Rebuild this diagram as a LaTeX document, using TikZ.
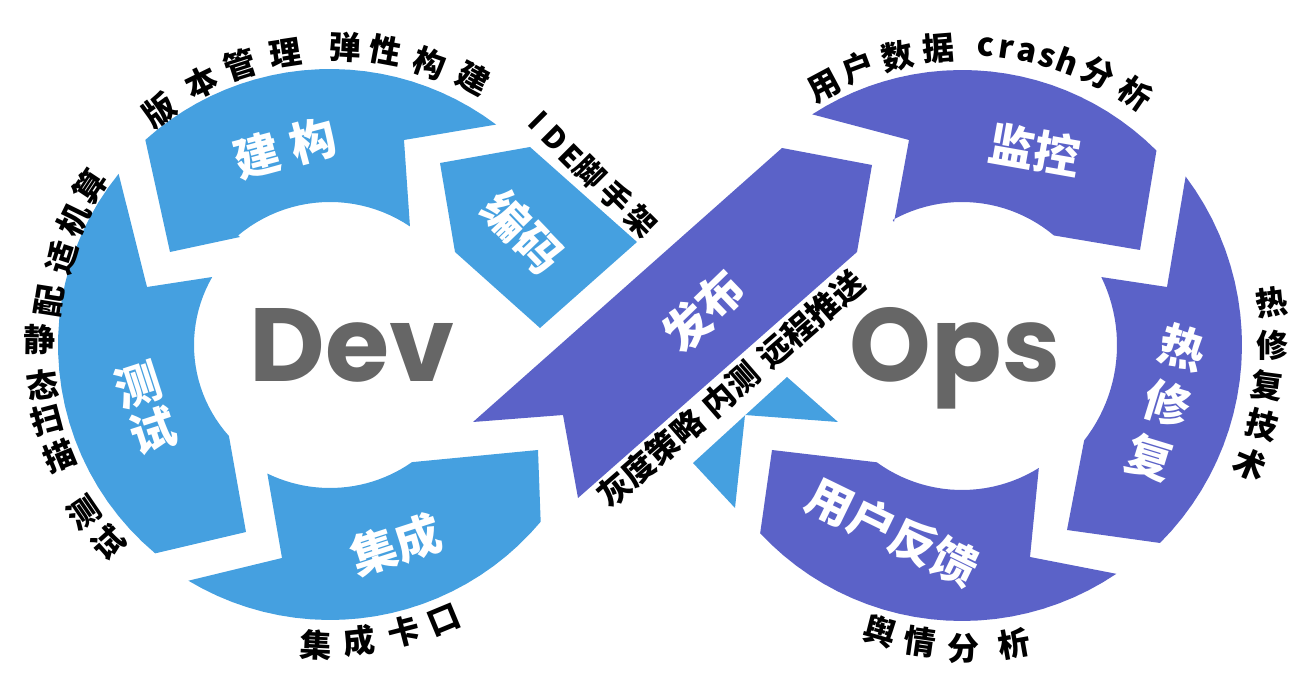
\documentclass[tikz,border=0pt]{standalone}
\usepackage{fontspec}
\newfontfamily\cjk{Noto Sans CJK SC}
\newfontfamily\logofont{Poppins}
\definecolor{devblue}{HTML}{45A0E0}
\definecolor{opsviolet}{HTML}{5B62C8}
\definecolor{logogray}{HTML}{666666}
\tikzset{
  stage/.style={text=white, inner sep=0pt, font=\cjk\bfseries\fontsize{23}{23}\selectfont},
  note/.style={text=black, inner sep=0pt, font=\cjk\bfseries\fontsize{16}{16}\selectfont},
  logo/.style={text=logogray, inner sep=0pt, anchor=base, font=\logofont\bfseries\fontsize{52}{52}\selectfont}
}
\begin{document}
\begin{tikzpicture}[x=0.5pt, y=-0.5pt]
  \useasboundingbox (0,0) rectangle (1316,694);
  % Dev loop
  \fill[devblue] plot[domain=53:132, variable=\t] ({330+276*cos(\t)}, {345-276*sin(\t)})
    -- (170,252) -- (240,237)
    -- plot[domain=130:56, variable=\t] ({330+143*cos(\t)}, {345-143*sin(\t)})
    -- (404,140) -- cycle;
  \fill[devblue] plot[domain=141:230, variable=\t] ({330+272*cos(\t)}, {345-272*sin(\t)})
    -- (246,532) -- (230,442)
    -- plot[domain=222:150, variable=\t] ({330+136*cos(\t)}, {345-136*sin(\t)})
    -- (147,287) -- cycle;
  \fill[devblue] plot[domain=239:320, variable=\t] ({330+275*cos(\t)}, {345-275*sin(\t)})
    -- (538,450)
    -- plot[domain=305:244, variable=\t] ({330+143*cos(\t)}, {345-143*sin(\t)})
    -- (282,558) -- cycle;
  \fill[devblue] (530,147) -- (440,163) -- (455,252) -- (540,328) -- (637,242) -- cycle;
  \fill[devblue] (693,463) -- (787,377) -- (838,422) -- (745,415) -- (735,508) -- cycle;
  % Ops loop
  \fill[opsviolet] (473,422) -- (782,148) -- (872,165) -- (857,252) -- (578,498) -- (563,415) -- cycle;
  \fill[opsviolet] plot[domain=45:123, variable=\t] ({962+275*cos(\t)}, {345-275*sin(\t)})
    -- (909,140) -- (894,222)
    -- plot[domain=119:50, variable=\t] ({962+143*cos(\t)}, {345-143*sin(\t)})
    -- (1140,250) -- cycle;
  \fill[opsviolet] plot[domain=37:-45, variable=\t] ({962+280*cos(\t)}, {345-280*sin(\t)})
    -- (1067,530)
    -- plot[domain=-38:26, variable=\t] ({962+155*cos(\t)}, {345-155*sin(\t)})
    -- (1167,287) -- cycle;
  \fill[opsviolet] plot[domain=-56:-137, variable=\t] ({962+276*cos(\t)}, {345-276*sin(\t)})
    -- (772,450)
    -- plot[domain=-126:-58, variable=\t] ({962+145*cos(\t)}, {345-145*sin(\t)})
    -- (1030,557) -- cycle;

  \node[logo] (dev) at (352,382) {Dev};
  \node[logo] (ops) at (955,382) {Ops};

  \node[stage, rotate=15] (build) at (285,148) {建\hspace{6pt}构};
  \node[stage, rotate=-46] (code) at (523,232) {编码};
  \node[stage, rotate=18] (integ) at (396,545) {集成};
  \node[stage, rotate=44] (release) at (703,311) {发布};
  \node[stage, rotate=-10] (monitor) at (1035,150) {监控};
  \node[stage, rotate=-26] (feedback) at (893,532) {用户反馈};
  \foreach \ch/\x/\y [count=\i] in {测/138/385, 试/153/431}
    \node[stage, rotate=18] (test\i) at (\x,\y) {\ch};
  \foreach \ch/\x/\y [count=\i] in {热/1183/348, 修/1168/403, 复/1150/458}
    \node[stage, rotate=-17] (fix\i) at (\x,\y) {\ch};

  \foreach \ch/\ang/\rad [count=\i] in {版/125.9/290, 本/116/292, 管/107.8/294, 理/98.6/295, 弹/87.1/298, 性/79.4/300, 构/70.5/299, 建/61.7/303}
    \node[note, rotate=\ang-90] (devtop\i) at ({330+\rad*cos(\ang)}, {345-\rad*sin(\ang)}) {\ch};
  \foreach \ch/\ang/\rad [count=\i] in {配/171/284, 适/162/282, 机/154/285, 算/146.5/288}
    \node[note, rotate=\ang-90] (devleft\i) at ({330+\rad*cos(\ang)}, {345-\rad*sin(\ang)}) {\ch};
  \foreach \ch/\ang/\rad [count=\i] in {静/179/290, 态/187.9/290, 扫/194.8/293, 描/202.3/292, 测/214.3/298, 试/221.7/297}
    \node[note, rotate=\ang-180] (devside\i) at ({330+\rad*cos(\ang)}, {345-\rad*sin(\ang)}) {\ch};
  \foreach \ch/\ang/\rad [count=\i] in {集/267.3/300, 成/275.6/297, 卡/284.5/296, 口/292.5/298}
    \node[note, rotate=\ang-270] (devbot\i) at ({330+\rad*cos(\ang)}, {345-\rad*sin(\ang)}) {\ch};
  \foreach \ch/\x/\y [count=\i] in {I/538/120, D/555/138, E/571/156, 脚/590/172, 手/616/197, 架/641/221}
    \node[note, rotate=-45, font=\cjk\bfseries\fontsize{15}{15}\selectfont] (ide\i) at (\x,\y) {\ch};
  \node[note, rotate=41] (push) at (731,389) {灰度策略\hspace{5pt}内测\hspace{5pt}远程推送};

  \foreach \ch/\ang/\rad [count=\i] in {用/118.1/293, 户/110.6/296, 数/102.5/296, 据/94.6/298, 分/63.4/304, 析/55.4/306}
    \node[note, rotate=\ang-90] (opstop\i) at ({962+\rad*cos(\ang)}, {345-\rad*sin(\ang)}) {\ch};
  \foreach \ch/\ang [count=\i] in {c/85.5, r/81.5, a/77.5, s/73.5, h/69.5}
    \node[note, anchor=base, rotate=\ang-90] (crash\i) at ({962+290*cos(\ang)}, {345-290*sin(\ang)}) {\ch};
  \foreach \ch/\ang/\rad [count=\i] in {热/7.9/313, 修/0/310, 复/-7.5/308, 技/-14.9/310, 术/-22.6/312}
    \node[note, rotate=\ang] (opsside\i) at ({962+\rad*cos(\ang)}, {345-\rad*sin(\ang)}) {\ch};
  \foreach \ch/\ang/\rad [count=\i] in {舆/254/298, 情/262/300, 分/270.2/303, 析/280/303}
    \node[note, rotate=\ang-270] (opsbot\i) at ({962+\rad*cos(\ang)}, {345-\rad*sin(\ang)}) {\ch};
\end{tikzpicture}
\end{document}
